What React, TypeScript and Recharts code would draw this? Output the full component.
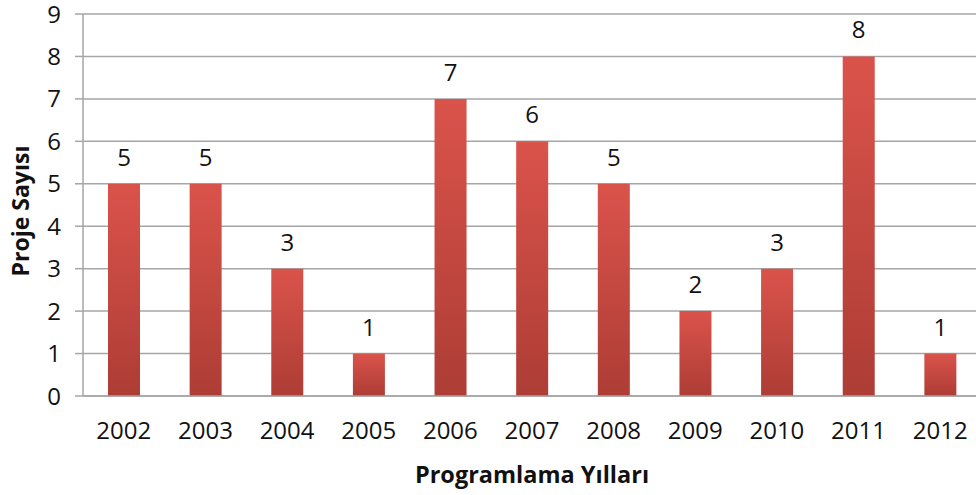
import { Bar, BarChart, CartesianGrid, Label, LabelList, XAxis, YAxis } from 'recharts';

// Proje sayıları, programlama yıllarına göre
const years = ['2002', '2003', '2004', '2005', '2006', '2007', '2008', '2009', '2010', '2011', '2012'];
const projects = [5, 5, 3, 1, 7, 6, 5, 2, 3, 8, 1];
const yTicks = [0, 1, 2, 3, 4, 5, 6, 7, 8, 9];

const data = years.map((year, i) => ({ year, projects: projects[i] }));

const FONT = '"Open Sans", sans-serif';
const GRID = '#a6a6a6';

export default function App() {
  return (
    <div style={{ position: 'absolute', left: 0, top: 0, width: 976, height: 495, overflow: 'hidden', background: '#fff' }}>
      <BarChart
        width={986}
        height={495}
        data={data}
        margin={{ top: 14, right: 5, bottom: 0, left: 0 }}
        barSize={32}
        style={{ fontFamily: FONT }}
      >
        <defs>
          <linearGradient id="barGrad" x1="0" y1="0" x2="0" y2="1">
            <stop offset="0%" stopColor="#da534b" />
            <stop offset="100%" stopColor="#ad3d35" />
          </linearGradient>
        </defs>
        <CartesianGrid vertical={false} stroke={GRID} strokeWidth={1.5} />
        <XAxis
          dataKey="year"
          height={99}
          tickLine={false}
          axisLine={{ stroke: GRID, strokeWidth: 1.5 }}
          tickMargin={20}
          tick={{ fontSize: 24, fill: '#111' }}
          interval={0}
        >
          <Label
            value="Programlama Yılları"
            position="insideBottom"
            offset={12}
            style={{ fontSize: 23.5, fontWeight: 700, fill: '#111', fontFamily: FONT }}
          />
        </XAxis>
        <YAxis
          width={83}
          domain={[0, 9]}
          ticks={yTicks}
          interval={0}
          tickSize={8}
          tickMargin={14}
          tickLine={{ stroke: GRID, strokeWidth: 1.5 }}
          axisLine={{ stroke: GRID, strokeWidth: 1.5 }}
          tick={{ fontSize: 24, fill: '#111' }}
        >
          <Label
            content={({ viewBox }: any) => {
              const cx = viewBox.x + 20;
              const cy = viewBox.y + viewBox.height / 2 + 6;
              return (
                <text
                  x={cx}
                  y={cy}
                  transform={`rotate(-90, ${cx}, ${cy})`}
                  textAnchor="middle"
                  dominantBaseline="central"
                  style={{ fontSize: 23, fontWeight: 700, fill: '#111', fontFamily: FONT }}
                >
                  Proje Sayısı
                </text>
              );
            }}
          />
        </YAxis>
        <Bar dataKey="projects" fill="url(#barGrad)" isAnimationActive={false}>
          <LabelList dataKey="projects" position="top" offset={18} style={{ fontSize: 24, fill: '#111', fontFamily: FONT }} />
        </Bar>
      </BarChart>
    </div>
  );
}
